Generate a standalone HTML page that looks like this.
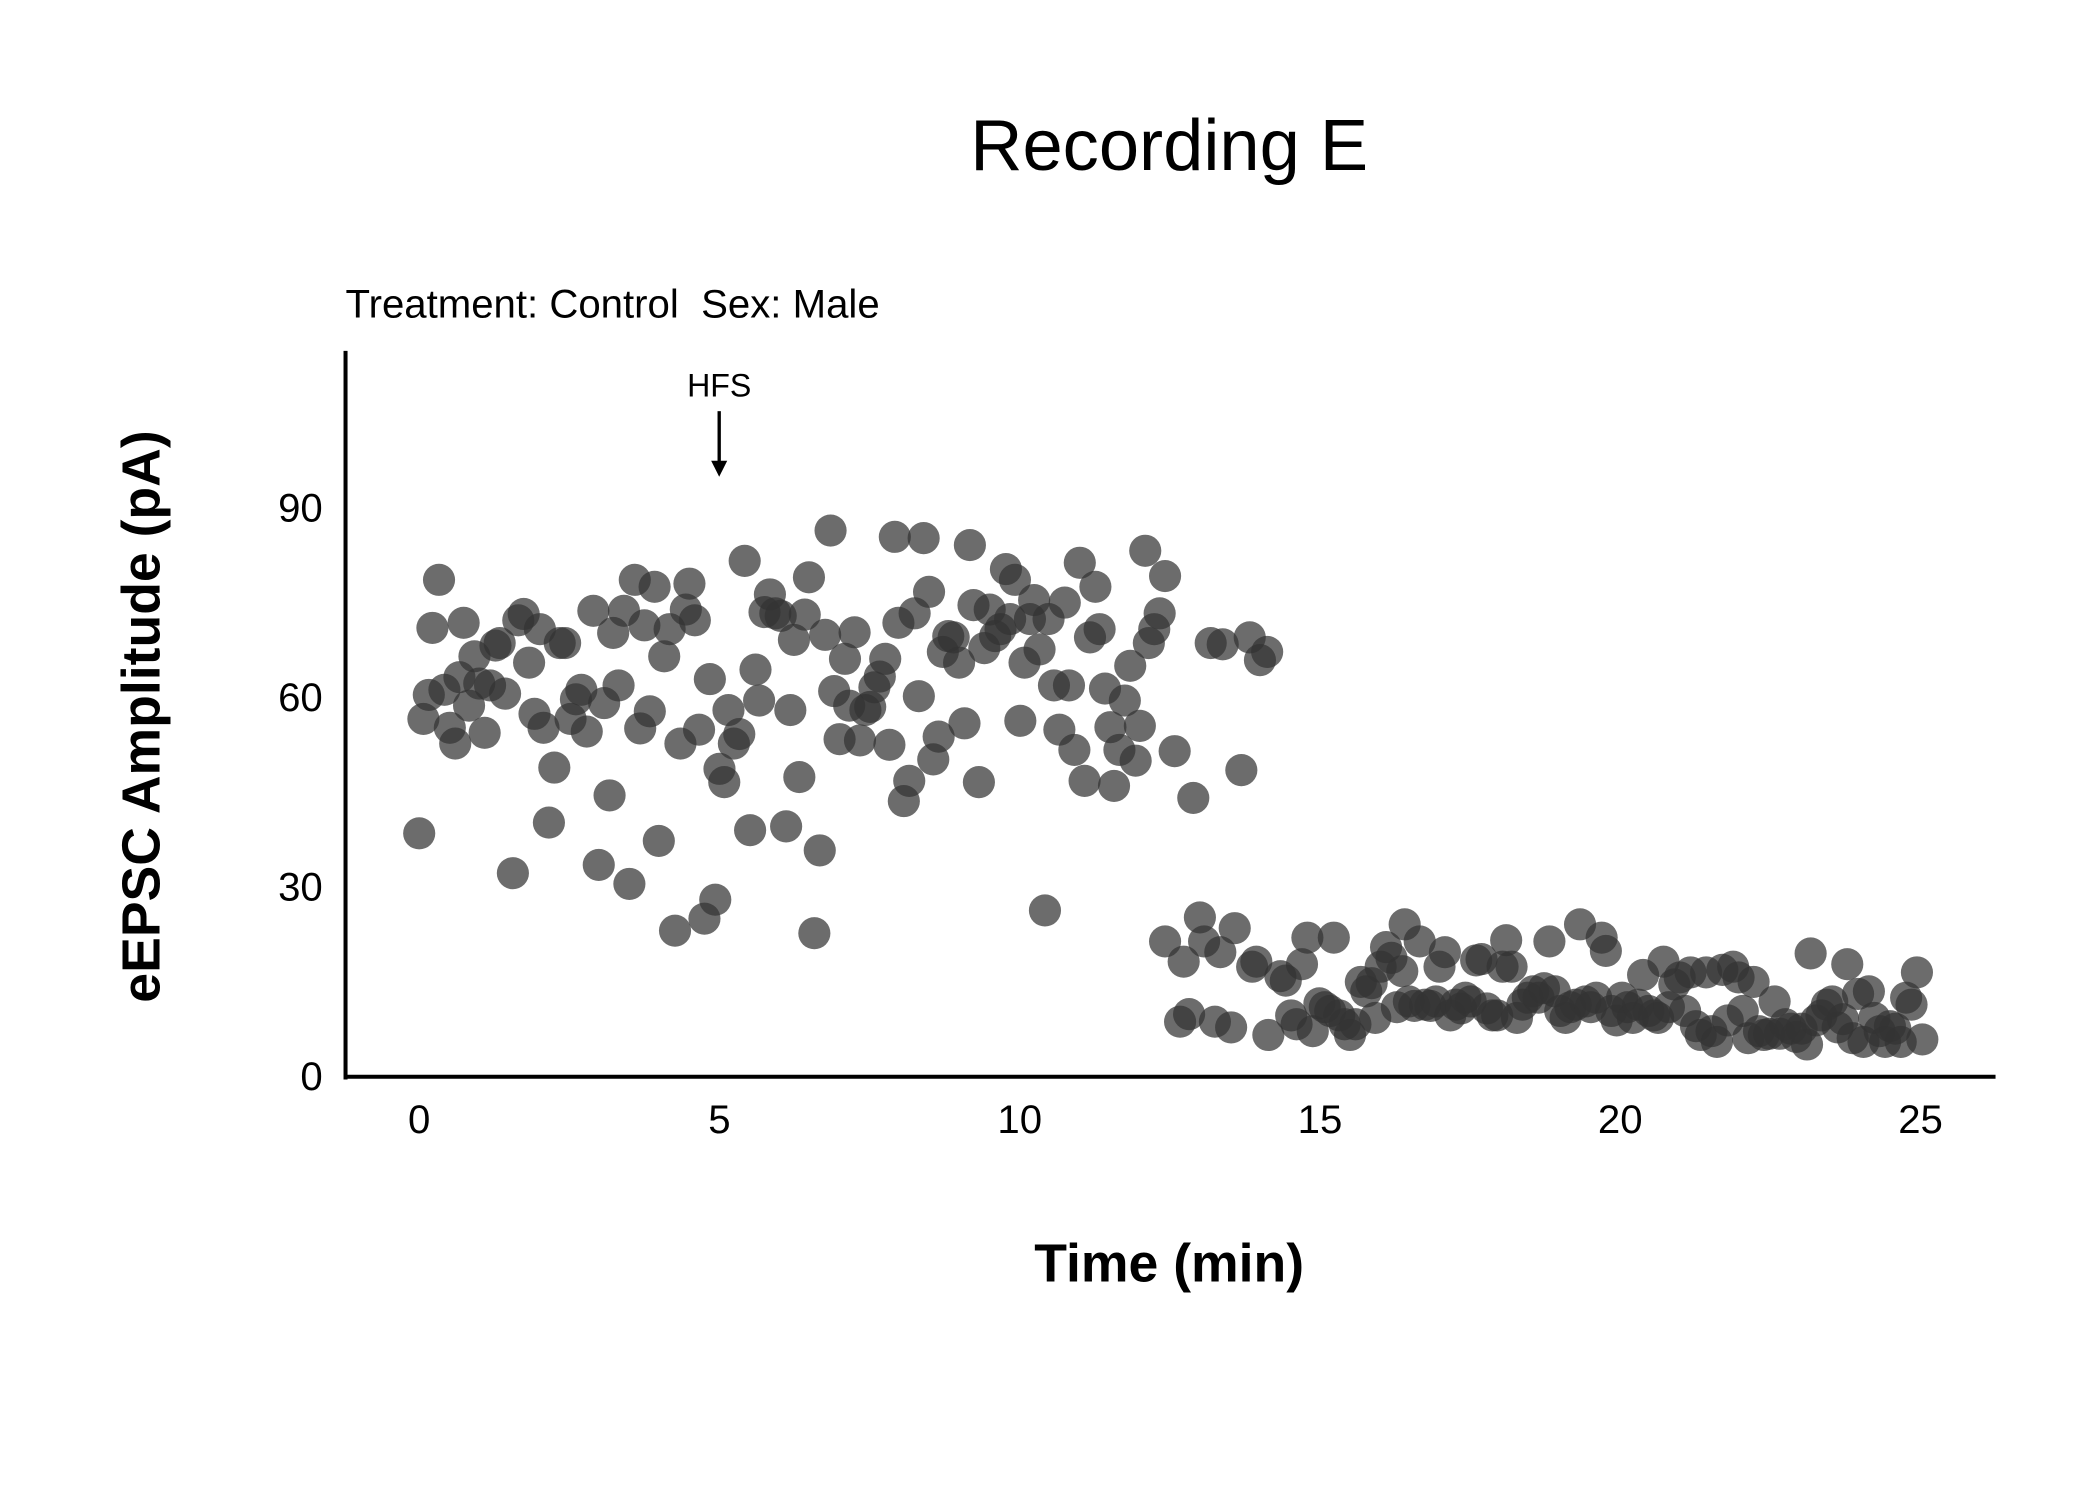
<!DOCTYPE html>
<html><head><meta charset="utf-8"><style>
html,body{margin:0;padding:0;background:#fff;width:2100px;height:1500px;overflow:hidden}
svg{display:block}
text{font-family:"Liberation Sans",sans-serif;fill:#000}
</style></head><body>
<svg id="chart" width="2100" height="1500" viewBox="0 0 1568 1120" preserveAspectRatio="none" xmlns="http://www.w3.org/2000/svg">
<text x="873" y="127" font-size="54" text-anchor="middle">Recording E</text>
<text x="258" y="237" font-size="30">Treatment: Control&#160;&#160;Sex: Male</text>
<g id="points"></g>
<line x1="258" y1="262" x2="258" y2="806" stroke="#000" stroke-width="3"/>
<line x1="257" y1="804" x2="1490" y2="804" stroke="#000" stroke-width="3"/>
<g id="xticks"></g>
<g id="yticks"></g>
<g>
<text x="537" y="296" font-size="24" text-anchor="middle">HFS</text>
<line x1="537" y1="307" x2="537" y2="348" stroke="#000" stroke-width="2.5"/>
<polygon points="531,344 543,344 537,356" fill="#000"/>
</g>
<text x="873" y="957" font-size="40" font-weight="bold" text-anchor="middle">Time (min)</text>
<text transform="translate(119,535) rotate(-90)" font-size="40" font-weight="bold" text-anchor="middle">eEPSC Amplitude (pA)</text>
</svg>
<script>
const times = [0,0.07,0.16,0.22,0.33,0.42,0.51,0.6,0.67,0.74,0.83,0.92,1.0,1.09,1.18,1.27,1.34,1.43,1.56,1.65,1.74,1.83,1.92,2.01,2.07,2.16,2.25,2.34,2.43,2.52,2.61,2.7,2.79,2.9,2.99,3.08,3.17,3.23,3.32,3.41,3.5,3.59,3.68,3.75,3.84,3.92,3.99,4.08,4.17,4.26,4.35,4.44,4.5,4.59,4.66,4.75,4.84,4.93,5.0,5.08,5.15,5.24,5.33,5.42,5.51,5.6,5.66,5.75,5.84,5.93,6.02,6.11,6.18,6.24,6.33,6.42,6.49,6.58,6.67,6.76,6.85,6.91,7.0,7.09,7.16,7.25,7.34,7.43,7.51,7.58,7.67,7.76,7.83,7.92,7.98,8.07,8.16,8.25,8.32,8.4,8.49,8.56,8.65,8.72,8.81,8.9,8.99,9.08,9.17,9.23,9.32,9.41,9.5,9.59,9.68,9.77,9.84,9.92,10.01,10.08,10.17,10.24,10.33,10.42,10.48,10.57,10.66,10.75,10.82,10.91,11.0,11.08,11.17,11.26,11.33,11.42,11.51,11.57,11.66,11.75,11.84,11.93,12.0,12.09,12.15,12.24,12.33,12.42,12.58,12.89,13.18,13.38,13.69,13.83,14.0,14.12,
12.42,12.67,12.73,12.82,13.0,13.07,13.25,13.34,13.52,13.58,13.87,13.94,14.14,14.34,14.43,14.52,14.61,14.7,14.79,14.88,14.99,15.08,15.17,15.23,15.32,15.41,15.5,15.59,15.68,15.77,15.86,15.92,16.01,16.1,16.19,16.28,16.37,16.41,16.48,16.57,16.66,16.75,16.84,16.93,16.99,17.08,17.17,17.26,17.35,17.42,17.51,17.6,17.69,17.78,17.87,17.95,18.04,18.1,18.19,18.28,18.37,18.46,18.55,18.64,18.73,18.82,18.91,19.0,19.09,19.17,19.26,19.33,19.42,19.51,19.6,19.69,19.76,19.85,19.94,20.03,20.12,20.21,20.3,20.38,20.47,20.56,20.63,20.72,20.81,20.9,20.99,21.08,21.17,21.26,21.34,21.43,21.52,21.61,21.7,21.79,21.88,21.97,22.04,22.13,22.22,22.31,22.39,22.48,22.57,22.66,22.75,22.84,22.93,23.02,23.11,23.17,23.26,23.35,23.44,23.53,23.62,23.71,23.78,23.87,23.96,24.05,24.14,24.23,24.32,24.41,24.49,24.58,24.67,24.76,24.85,24.94,25.03];
const amplitudes = [38.3,56.4,60.2,70.8,78.4,61,55,52.5,63,71.6,58.5,66.3,62,54.2,61.7,68,68.4,60.4,32,72,73,65.3,57.2,70.6,55,40,48.7,68.4,68.4,56.4,59.5,61,54.4,73.5,33.3,58.9,44.3,70,61.7,73.5,30.3,78.4,54.9,71.2,57.6,77.3,37.1,66.3,70.6,22.9,52.5,73.7,77.8,72,54.7,24.8,62.7,27.8,48.5,46.4,57.8,52.5,54,81.4,38.8,64.2,59.3,73.3,76.1,73.1,72.7,39.4,57.8,68.9,47.2,72.9,78.8,22.5,35.6,69.7,86.2,60.8,53.2,65.9,58.5,70.1,53,57.8,58.3,61.4,63.1,65.9,52.3,85.2,71.6,43.4,46.6,73.1,60,85,76.5,50,53.6,67,69.5,69.3,65.3,55.7,83.9,74.4,46.4,67.6,73.7,69.5,70.6,80.1,72.2,78.4,56.1,65.3,72.2,75.2,67.4,26.1,72.2,61.7,54.7,74.8,61.7,51.5,81.1,46.6,69.3,77.3,70.6,61.2,55.1,45.8,51.5,59.3,64.8,49.8,55.3,83,68.4,70.6,73.1,79,51.3,43.9,68.4,68.2,48.3,69.3,65.7,67,
21.2,8.5,18,9.7,25,21.2,8.5,19.5,7.6,23.3,17.2,18,6.4,15.7,15,9.5,8.1,17.6,21.8,7,11.4,10.8,10.2,21.8,9.5,8.1,6.4,8.1,14.8,13.3,14.6,9.1,17.2,20.3,18.6,10.8,16.5,23.9,11.7,11,21.2,11.2,11,11.7,17.2,19.5,9.5,11.2,10.6,12.3,11.7,18.2,18.4,10.6,9.5,9.5,17.2,21.4,17.2,9.1,11.2,12.3,13.3,12.3,13.8,21.2,13.3,10.2,9.1,10.8,11.2,23.9,11.7,10.8,12.3,21.8,19.7,10.2,8.7,12.3,10.8,9.1,11.2,15.9,10.2,9.5,9.1,18,10.8,14.4,15.5,10.2,16.3,7.8,6.4,16.3,7,5.3,16.7,8.7,17.2,15.5,10.2,5.9,14.8,7,6.4,6.6,11.7,6.6,8.1,7.4,6.1,7.4,4.9,19.3,8.7,9.5,11.2,11.7,7.6,8.9,17.6,5.9,12.9,5.3,13.3,9.1,7,5.3,7.8,7.4,5.3,12.3,11.2,16.3,5.7];
const xTicks = [0,5,10,15,20,25];
const yTicks = [0,30,60,90];
const NS = "http://www.w3.org/2000/svg";
function xScale(t){ return 313 + t * 44.84; }
function yScale(v){ return 803 - v * 4.72; }
const pg = document.getElementById('points');
for (let i = 0; i < times.length; i++) {
  const c = document.createElementNS(NS, 'circle');
  c.setAttribute('cx', xScale(times[i]));
  c.setAttribute('cy', yScale(amplitudes[i]));
  c.setAttribute('r', 12);
  c.setAttribute('fill', '#333');
  c.setAttribute('fill-opacity', '0.72');
  
  
  pg.appendChild(c);
}
const xg = document.getElementById('xticks');
xTicks.forEach(t => {
  const tx = document.createElementNS(NS, 'text');
  tx.setAttribute('x', xScale(t)); tx.setAttribute('y', 846);
  tx.setAttribute('font-size', '30'); tx.setAttribute('text-anchor', 'middle');
  tx.textContent = t;
  
  
  xg.appendChild(tx);
});
const yg = document.getElementById('yticks');
yTicks.forEach(v => {
  const tx = document.createElementNS(NS, 'text');
  tx.setAttribute('x', 241); tx.setAttribute('y', yScale(v) + 11);
  tx.setAttribute('font-size', '30'); tx.setAttribute('text-anchor', 'end');
  tx.textContent = v;
  
  
  yg.appendChild(tx);
});
</script>
</body></html>
